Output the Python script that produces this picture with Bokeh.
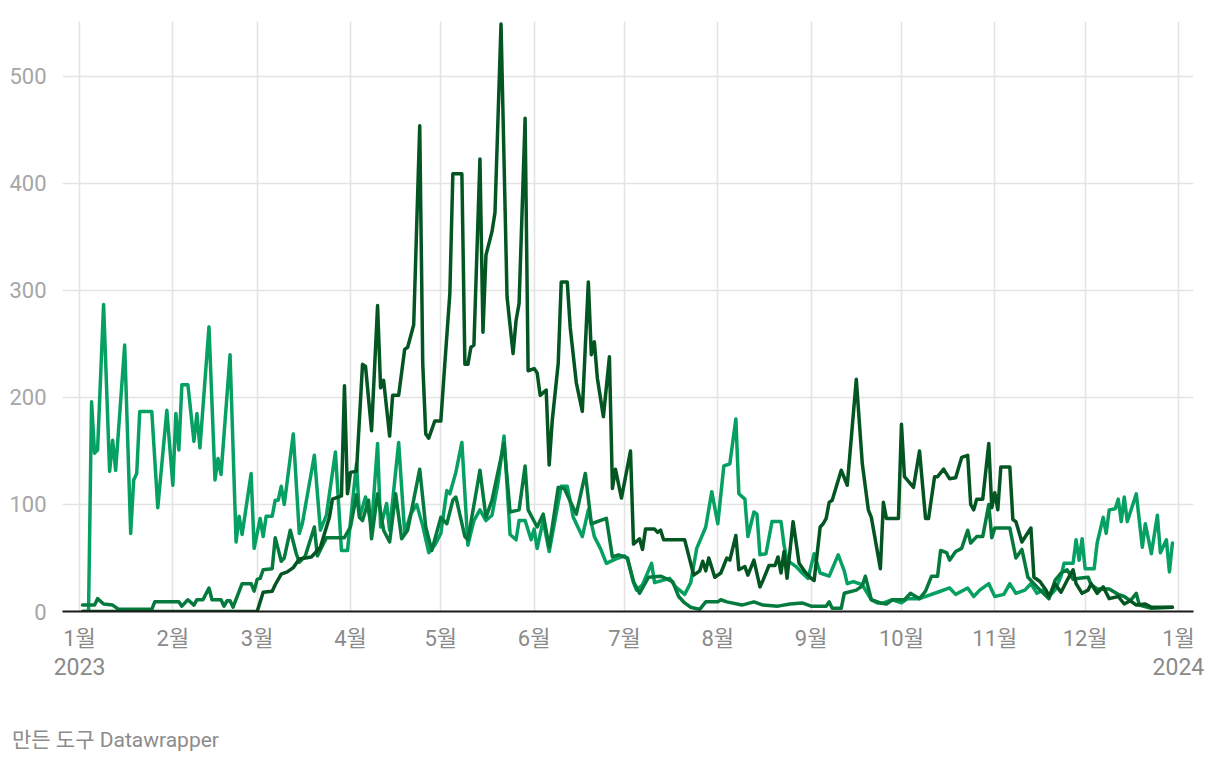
from bokeh.plotting import figure
from bokeh.models import FixedTicker, LinearAxis, Range1d, Div
from bokeh.layouts import column
from bokeh.embed import file_html
from bokeh.resources import INLINE

# x values are day offsets from 2023-01-01
month_ticks = [0, 31, 59, 90, 120, 151, 181, 212, 243, 273, 304, 334, 365]
month_labels = ["1월", "2월", "3월", "4월", "5월", "6월", "7월", "8월", "9월", "10월", "11월", "12월", "1월"]
year_ticks = [0, 365]
year_labels = ["2023", "2024"]
y_ticks = [0, 100, 200, 300, 400, 500]

light_days = [1, 3, 4, 5, 6, 8, 10, 11, 12, 15, 17, 18, 19, 20, 24, 26, 29, 31, 32, 33, 34, 36, 38, 39, 40,
              43, 45, 46, 47, 50, 52, 53, 54, 57, 58, 60, 61, 62, 64, 65, 66, 67, 68, 71, 73, 74, 78, 80, 82,
              85, 87, 89, 92, 93, 95, 97, 99, 100, 102, 103, 106, 108, 110, 112, 114, 116, 118, 120, 122, 123,
              125, 127, 129, 131, 133, 135, 137, 139, 141, 143, 145, 146, 148, 150, 151, 152, 154, 156, 160,
              162, 164, 167, 169, 171, 173, 175, 178, 181, 182, 184, 185, 187, 190, 191, 196, 198, 201, 203,
              205, 208, 210, 212, 214, 216, 218, 219, 221, 222, 224, 225, 226, 228, 230, 233, 234, 235, 238,
              240, 242, 244, 246, 249, 252, 254, 255, 257, 260, 263, 265, 267, 270, 273, 275, 279, 285, 289,
              291, 295, 297, 299, 302, 304, 307, 309, 311, 314, 316, 318, 320, 322, 324, 326, 327, 330, 331,
              332, 333, 334, 337, 338, 340, 341, 342, 344, 345, 346, 347, 348, 351, 353, 354, 356, 358, 359,
              361, 362, 363]
light_vals = [0, 0, 196, 148, 151, 287, 131, 160, 132, 249, 73, 123, 129, 187, 187, 97, 188, 118, 185, 151, 212,
              212, 159, 185, 153, 266, 123, 143, 128, 240, 65, 89, 72, 129, 59, 87, 70, 89, 89, 104, 104, 117,
              100, 166, 73, 82, 146, 76, 90, 149, 57, 57, 138, 88, 107, 79, 157, 79, 101, 76, 158, 73, 91, 100,
              80, 55, 62, 73, 113, 110, 130, 158, 62, 85, 95, 85, 90, 120, 164, 72, 67, 85, 85, 67, 77, 59, 85,
              56, 117, 117, 88, 70, 95, 70, 59, 45, 49, 52, 49, 27, 20, 25, 45, 27, 31, 23, 16, 27, 59, 79, 112,
              82, 136, 138, 180, 110, 105, 70, 93, 91, 53, 54, 84, 84, 62, 48, 42, 36, 31, 54, 36, 33, 53, 38,
              26, 28, 25, 11, 8, 8, 11, 8, 12, 12, 18, 22, 16, 22, 14, 20, 26, 14, 16, 26, 17, 20, 26, 17, 20,
              14, 20, 33, 45, 45, 67, 48, 68, 40, 40, 64, 88, 73, 95, 96, 105, 84, 107, 84, 110, 60, 82, 54, 90,
              55, 67, 37, 64]

medium_days = [1, 5, 6, 8, 11, 13, 24, 25, 33, 34, 36, 38, 39, 41, 43, 44, 47, 48, 49, 50, 51, 54, 57, 58, 59,
               60, 61, 64, 65, 67, 68, 70, 72, 73, 75, 78, 79, 82, 88, 90, 92, 93, 94, 96, 97, 99, 101, 103,
               105, 107, 109, 113, 115, 117, 120, 122, 124, 125, 128, 129, 133, 135, 137, 141, 143, 146, 148,
               149, 152, 154, 156, 159, 161, 165, 168, 170, 175, 177, 179, 182, 184, 186, 189, 193, 197, 199,
               201, 203, 206, 208, 212, 213, 215, 220, 224, 227, 232, 236, 240, 243, 248, 249, 250, 253, 254,
               258, 260, 261, 263, 266, 268, 270, 274, 276, 279, 281, 283, 285, 286, 288, 289, 291, 293, 295,
               296, 298, 300, 302, 303, 304, 306, 309, 310, 311, 313, 315, 318, 322, 324, 326, 328, 330, 332,
               335, 336, 338, 342, 345, 347, 349, 351, 352, 356, 363]
medium_vals = [6, 6, 12, 7, 6, 2, 2, 9, 9, 5, 11, 6, 11, 11, 22, 11, 11, 5, 10, 10, 4, 26, 26, 19, 30, 31, 39,
               40, 69, 47, 50, 76, 54, 46, 52, 79, 52, 69, 69, 79, 109, 88, 85, 104, 68, 110, 76, 65, 110, 68,
               76, 133, 79, 57, 88, 82, 104, 107, 70, 67, 132, 88, 104, 157, 93, 95, 136, 95, 79, 91, 60, 116,
               115, 91, 129, 82, 87, 51, 53, 50, 28, 17, 32, 33, 28, 14, 8, 4, 2, 9, 9, 11, 9, 6, 9, 6, 5, 7, 8,
               5, 5, 9, 3, 3, 17, 20, 24, 33, 11, 8, 7, 11, 11, 17, 12, 19, 33, 33, 57, 55, 48, 56, 59, 76, 64,
               70, 70, 100, 69, 78, 78, 78, 64, 50, 58, 32, 23, 12, 29, 36, 39, 30, 31, 32, 25, 21, 21, 16, 14,
               10, 17, 6, 3, 4]

dark_days = [1, 59, 61, 64, 65, 67, 69, 71, 73, 77, 80, 83, 84, 87, 88, 89, 90, 92, 94, 95, 97, 99, 100, 101,
             103, 104, 106, 108, 109, 111, 113, 114, 115, 116, 118, 120, 121, 123, 124, 127, 128, 129, 130, 131,
             133, 134, 135, 137, 138, 140, 142, 144, 145, 146, 148, 149, 151, 152, 153, 155, 156, 157, 159, 160,
             162, 163, 165, 167, 169, 170, 171, 172, 174, 176, 177, 178, 180, 183, 184, 186, 187, 188, 191, 192,
             193, 194, 201, 204, 206, 207, 208, 209, 211, 213, 215, 216, 218, 219, 221, 222, 224, 226, 227, 229,
             231, 232, 233, 234, 235, 237, 239, 241, 243, 244, 246, 247, 248, 249, 250, 253, 255, 258, 260, 262,
             263, 266, 267, 268, 272, 273, 274, 277, 279, 281, 282, 284, 285, 287, 289, 291, 293, 295, 296, 297,
             298, 300, 302, 303, 304, 305, 306, 309, 310, 311, 313, 316, 317, 319, 321, 322, 324, 326, 328, 330,
             331, 333, 335, 336, 338, 340, 342, 345, 347, 349, 351, 354, 356, 363]
dark_vals = [0, 0, 18, 19, 25, 35, 37, 41, 49, 51, 60, 88, 105, 108, 211, 110, 130, 131, 231, 229, 169, 286,
             209, 216, 164, 202, 202, 245, 247, 268, 454, 232, 166, 162, 178, 178, 218, 297, 409, 409, 231, 231,
             247, 249, 423, 261, 333, 355, 373, 549, 294, 241, 272, 288, 461, 225, 227, 223, 202, 207, 137, 178,
             232, 308, 308, 265, 214, 187, 308, 240, 252, 218, 182, 238, 115, 133, 106, 150, 63, 68, 58, 77, 77,
             74, 76, 67, 67, 34, 38, 47, 38, 50, 32, 36, 50, 48, 71, 39, 42, 34, 48, 23, 29, 43, 43, 51, 36, 56,
             31, 84, 45, 37, 31, 29, 79, 82, 87, 102, 104, 132, 118, 217, 138, 95, 88, 40, 102, 87, 87, 175, 126,
             116, 150, 87, 87, 126, 126, 133, 124, 125, 144, 146, 100, 95, 105, 105, 157, 97, 111, 95, 135, 135,
             86, 84, 65, 78, 32, 28, 20, 14, 26, 18, 29, 39, 26, 17, 20, 26, 17, 23, 12, 14, 7, 10, 6, 7, 4, 4]

series = [
    (light_days, light_vals, "#07a063"),
    (medium_days, medium_vals, "#047b3d"),
    (dark_days, dark_vals, "#035622"),
]

FONT = "Roboto, 'Noto Sans CJK KR', sans-serif"

p = figure(frame_width=1131, frame_height=590,
           x_range=Range1d(-5.65, 370.0), y_range=Range1d(0, 551.4),
           output_backend="svg", toolbar_location=None,
           min_border_left=62, min_border_right=19, min_border_top=21, min_border_bottom=111,
           outline_line_color=None, background_fill_color="white", border_fill_color="white")

for d, v, c in series:
    p.line(d, v, line_width=3.5, color=c, line_join="round", line_cap="round")

# grids
p.xgrid.ticker = FixedTicker(ticks=month_ticks)
p.ygrid.ticker = FixedTicker(ticks=y_ticks[1:])
for g in (p.xgrid, p.ygrid):
    g.grid_line_color = "#e4e4e4"
    g.grid_line_width = 1.6

# y axis
p.yaxis.ticker = FixedTicker(ticks=y_ticks)
p.yaxis.axis_line_color = None
p.yaxis.major_tick_line_color = None
p.yaxis.minor_tick_line_color = None
p.yaxis.major_label_text_font_size = "22px"
p.yaxis.major_label_text_color = "#a6a6a6"
p.yaxis.major_label_text_font = FONT
p.yaxis.major_label_standoff = 10

# x axis (months)
p.xaxis.ticker = FixedTicker(ticks=month_ticks)
p.xaxis.major_label_overrides = {t: l for t, l in zip(month_ticks, month_labels)}
p.xaxis.axis_line_color = "#1a1a1a"
p.xaxis.axis_line_width = 2
p.xaxis.major_tick_line_color = None
p.xaxis.minor_tick_line_color = None
p.xaxis.major_label_text_font_size = "22px"
p.xaxis.major_label_text_color = "#8a8a8a"
p.xaxis.major_label_text_font = FONT
p.xaxis.major_label_standoff = 8

# second x axis (years)
yax = LinearAxis(ticker=FixedTicker(ticks=year_ticks),
                 major_label_overrides={t: l for t, l in zip(year_ticks, year_labels)},
                 axis_line_color=None, major_tick_line_color=None, minor_tick_line_color=None,
                 major_label_text_font_size="23px", major_label_text_color="#8a8a8a",
                 major_label_text_font=FONT, major_label_standoff=-2)
p.add_layout(yax, "below")

footer = Div(text="만든 도구 Datawrapper", width=400, height=24, margin=(6, 0, 0, 12),
             styles={"font-family": FONT, "font-size": "21px", "color": "#8c8c8c",
                     "line-height": "24px", "white-space": "nowrap"})

layout = column(p, footer, spacing=0)
open("out.html", "w").write(file_html(layout, INLINE))
